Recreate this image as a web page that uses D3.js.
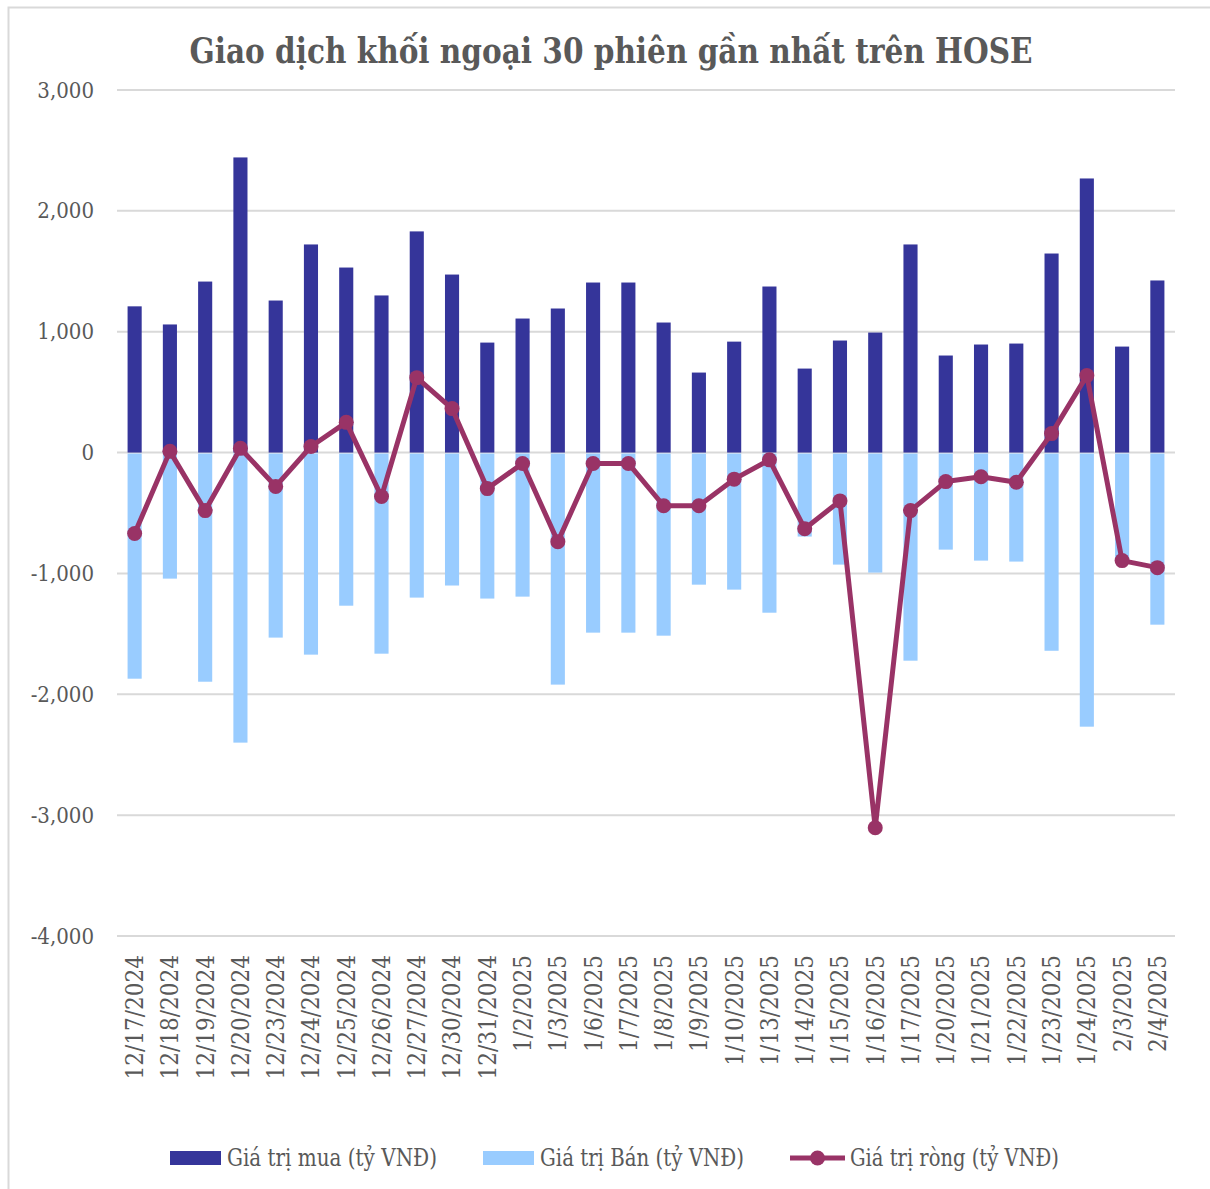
<!DOCTYPE html>
<html>
<head>
  <meta charset="utf-8">
  <title>Giao dich khoi ngoai</title>
  <style>
   html, body { margin: 0; padding: 0; background: #fff; }
   text { font-family: "DejaVu Serif Condensed", "DejaVu Serif", serif; font-stretch: condensed; fill: #595959; }
  </style>
</head>
<body>
  <div id="chart"></div>
  <script src="https://d3js.org/d3.v7.min.js"></script>
  <script>
// dates of the 30 sessions
var dates = ["12/17/2024","12/18/2024","12/19/2024","12/20/2024","12/23/2024","12/24/2024",
  "12/25/2024","12/26/2024","12/27/2024","12/30/2024","12/31/2024","1/2/2025","1/3/2025",
  "1/6/2025","1/7/2025","1/8/2025","1/9/2025","1/10/2025","1/13/2025","1/14/2025",
  "1/15/2025","1/16/2025","1/17/2025","1/20/2025","1/21/2025","1/22/2025","1/23/2025",
  "1/24/2025","2/3/2025","2/4/2025"];

// buy value (ty VND)
var buy = [1210, 1060, 1415, 2442, 1258, 1722, 1531, 1300, 1830, 1473, 910, 1109, 1192,
  1407, 1407, 1076, 662, 918, 1374, 695, 927, 993, 1722, 803, 894, 902, 1647, 2268, 877, 1424];

// sell value, drawn below zero
var sell = [-1871, -1043, -1896, -2400, -1531, -1672, -1267, -1664, -1200, -1100, -1208,
  -1192, -1920, -1490, -1490, -1515, -1093, -1134, -1325, -695, -927, -993, -1722, -803,
  -894, -902, -1640, -2268, -902, -1424];

// net value
var net = [-670, 10, -480, 35, -280, 50, 250, -364, 620, 364, -298, -90, -737, -90, -90,
  -440, -440, -220, -60, -630, -400, -3104, -480, -240, -200, -245, 157, 637, -894, -952];

var yTicks = [3000, 2000, 1000, 0, -1000, -2000, -3000, -4000];

var seriesNames = ["Giá trị mua (tỷ VNĐ)", "Giá trị Bán (tỷ VNĐ)", "Giá trị ròng (tỷ VNĐ)"];

var W = 1210, H = 1189;
var buyColor = "#35359a", sellColor = "#99ccff", netColor = "#993366";

var svg = d3.select("#chart").append("svg")
  .attr("width", W)
  .attr("height", H);

// outer frame
svg.append("rect")
  .attr("x", 8.5).attr("y", 7.5)
  .attr("width", W + 10).attr("height", H + 10)
  .attr("fill", "none")
  .attr("stroke", "#d9d9d9")
  .attr("stroke-width", 2);

var x = d3.scaleBand().domain(dates).range([117, 1175])
  .paddingInner(0.6).paddingOuter(0.3);
var y = d3.scaleLinear().domain([-4000, 3000]).range([936, 90]);

// title
svg.append("text")
  .attr("x", 611).attr("y", 63)
  .attr("text-anchor", "middle")
  .attr("font-size", 36)
  .attr("font-weight", "bold")
  .attr("textLength", 843)
  .attr("lengthAdjust", "spacingAndGlyphs")
  .text("Giao dịch khối ngoại 30 phiên gần nhất trên HOSE");

// gridlines
svg.append("g").selectAll("line")
  .data(yTicks)
  .enter().append("line")
  .attr("x1", 117).attr("x2", 1175)
  .attr("y1", function(d) { return y(d); })
  .attr("y2", function(d) { return y(d); })
  .attr("stroke", "#d9d9d9")
  .attr("stroke-width", 2);

// y axis labels (plain hyphen for negatives, as in the source)
var fmt = d3.format(",");
var yAxis = d3.axisLeft(y).tickValues(yTicks).tickSize(0).tickPadding(0)
  .tickFormat(function(d) { return fmt(d).replace("\u2212", "-"); });
svg.append("g")
  .attr("transform", "translate(94,0)")
  .call(yAxis)
  .call(function(g) {
    g.select(".domain").remove();
    g.selectAll("text")
      .attr("font-size", 22)
      .attr("fill", "#595959")
      .style("font-family", null);
  });

// x axis labels
svg.append("g").selectAll("text")
  .data(dates)
  .enter().append("text")
  .attr("transform", function(d) {
    return "translate(" + (x(d) + x.bandwidth() / 2) + ",955) rotate(-90)";
  })
  .attr("text-anchor", "end")
  .attr("dy", "0.35em")
  .attr("font-size", 24)
  .text(function(d) { return d; });

// buy bars
svg.append("g").selectAll("rect")
  .data(buy)
  .enter().append("rect")
  .attr("x", function(d, i) { return x(dates[i]); })
  .attr("width", x.bandwidth())
  .attr("y", function(d) { return y(d); })
  .attr("height", function(d) { return y(0) - y(d); })
  .attr("fill", buyColor);

// sell bars
svg.append("g").selectAll("rect")
  .data(sell)
  .enter().append("rect")
  .attr("x", function(d, i) { return x(dates[i]); })
  .attr("width", x.bandwidth())
  .attr("y", y(0) + 1)
  .attr("height", function(d) { return y(d) - y(0) - 1; })
  .attr("fill", sellColor);

// net line
var line = d3.line()
  .x(function(d, i) { return x(dates[i]) + x.bandwidth() / 2; })
  .y(function(d) { return y(d); });

svg.append("path")
  .datum(net)
  .attr("d", line)
  .attr("fill", "none")
  .attr("stroke", netColor)
  .attr("stroke-width", 5)
  .attr("stroke-linejoin", "round");

svg.append("g").selectAll("circle")
  .data(net)
  .enter().append("circle")
  .attr("cx", function(d, i) { return x(dates[i]) + x.bandwidth() / 2; })
  .attr("cy", function(d) { return y(d); })
  .attr("r", 7.5)
  .attr("fill", netColor);

// legend
var legendX = [170, 483, 790];
var legendTextLen = [210, 204, 209];
var lg = svg.append("g");
seriesNames.forEach(function(name, i) {
  var g = lg.append("g").attr("transform", "translate(" + legendX[i] + ",1158)");
  if (i < 2) {
    g.append("rect")
      .attr("x", 0).attr("y", -7)
      .attr("width", 51).attr("height", 14)
      .attr("fill", i === 0 ? buyColor : sellColor);
  } else {
    g.append("line")
      .attr("x1", 0).attr("x2", 55)
      .attr("y1", 0).attr("y2", 0)
      .attr("stroke", netColor).attr("stroke-width", 5);
    g.append("circle")
      .attr("cx", 27.5).attr("cy", 0).attr("r", 7.5)
      .attr("fill", netColor);
  }
  g.append("text")
    .attr("x", i < 2 ? 57 : 60)
    .attr("y", 0)
    .attr("dy", "0.35em")
    .attr("font-size", 24)
    .attr("textLength", legendTextLen[i])
    .attr("lengthAdjust", "spacingAndGlyphs")
    .text(name);
});
  </script>
</body>
</html>
